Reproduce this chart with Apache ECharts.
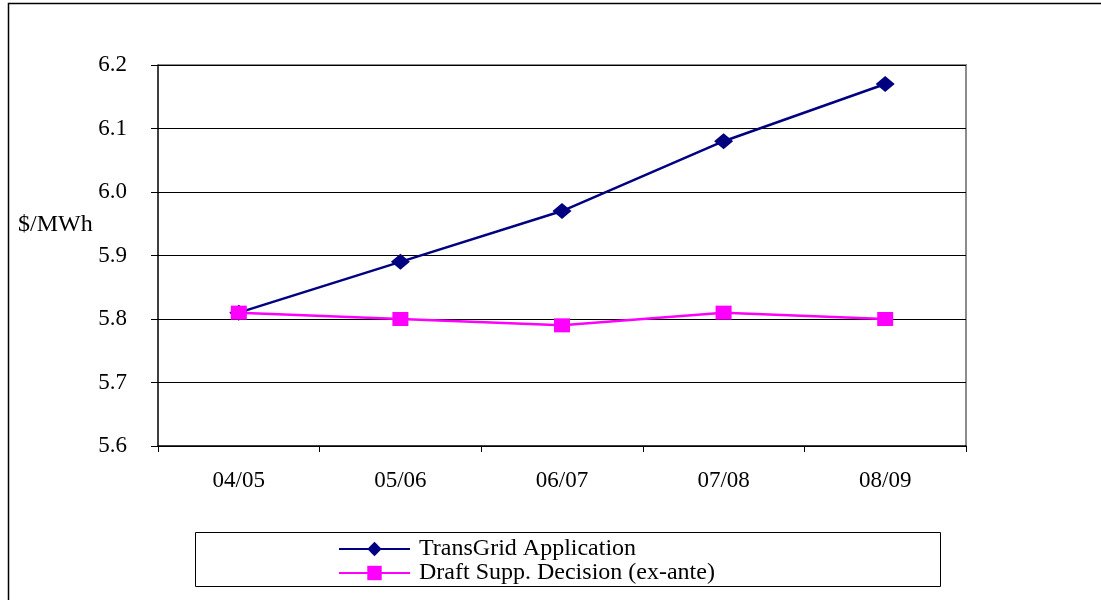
<!DOCTYPE html>
<html>
<head>
<meta charset="utf-8">
<script src="https://cdn.jsdelivr.net/npm/echarts@6/dist/echarts.min.js"></script>
<style>
  html, body { margin: 0; padding: 0; background: #fff; }
  #chart { width: 1101px; height: 600px; }
</style>
</head>
<body>
<div id="chart"></div>
<script>
// Financial years on the category axis
const years = ['04/05', '05/06', '06/07', '07/08', '08/09'];
// $/MWh values for each series
const transGrid = [5.81, 5.89, 5.97, 6.08, 6.17];
const draftDecision = [5.81, 5.80, 5.79, 5.81, 5.80];
const seriesNames = ['TransGrid Application', 'Draft Supp. Decision (ex-ante)'];

const FONT = '"Liberation Serif", "Times New Roman", serif';
const FS = 23;

const chart = echarts.init(document.getElementById('chart'), null, { renderer: 'canvas' });

chart.setOption({
  animation: false,
  backgroundColor: '#ffffff',
  textStyle: { fontFamily: FONT },
  grid: { left: 158, right: 135, top: 65, bottom: 154, containLabel: false },
  graphic: [
    // outer frame of the chart area
    { type: 'rect', shape: { x: 8.5, y: 3.5, width: 1200, height: 700 },
      style: { fill: 'none', stroke: '#000', lineWidth: 1.5 }, silent: true },
    // plot-area frame (top and right edges)
    { type: 'polyline', shape: { points: [[158, 65], [966, 65], [966, 446]] },
      style: { fill: 'none', stroke: '#8c8c8c', lineWidth: 2 }, silent: true },
    // legend frame
    { type: 'rect', shape: { x: 195.5, y: 532.5, width: 745, height: 54 },
      style: { fill: 'none', stroke: '#000', lineWidth: 1 }, silent: true },
    // y axis title
    { type: 'text', x: 18, y: 225,
      style: { text: '$/MWh', font: '24px ' + FONT, fill: '#000', verticalAlign: 'middle' }, silent: true }
  ],
  legend: {
    orient: 'vertical',
    left: 338,
    top: 537,
    padding: 0,
    itemWidth: 71,
    itemHeight: 18,
    itemGap: 0,
    textStyle: { fontFamily: FONT, fontSize: 24, color: '#000', padding: [0, 0, 0, 4] },
    data: seriesNames
  },
  xAxis: {
    type: 'category',
    data: years,
    boundaryGap: true,
    axisLine: { show: true, lineStyle: { color: '#000', width: 1.5 } },
    axisTick: { show: true, length: 6, inside: false, alignWithLabel: false, lineStyle: { color: '#000' } },
    axisLabel: { fontFamily: FONT, fontSize: FS, color: '#000', margin: 23 },
    splitLine: { show: false }
  },
  yAxis: {
    type: 'value',
    min: 5.6,
    max: 6.2,
    interval: 0.1,
    axisLine: { show: true, lineStyle: { color: '#000', width: 1.5 } },
    axisTick: { show: true, length: 7, lineStyle: { color: '#000' } },
    axisLabel: { fontFamily: FONT, fontSize: FS, color: '#000', margin: 31,
      formatter: v => v.toFixed(1) },
    splitLine: { show: true, lineStyle: { color: '#000', width: 1 } }
  },
  series: [
    {
      name: seriesNames[0],
      type: 'line',
      data: transGrid,
      symbol: 'diamond',
      symbolSize: [19, 16],
      lineStyle: { color: '#000080', width: 2.5 },
      itemStyle: { color: '#000080' },
      z: 3
    },
    {
      name: seriesNames[1],
      type: 'line',
      data: draftDecision,
      symbol: 'rect',
      symbolSize: [16, 14],
      lineStyle: { color: '#ff00ff', width: 2.5 },
      itemStyle: { color: '#ff00ff' },
      z: 4
    }
  ]
});
</script>
</body>
</html>
